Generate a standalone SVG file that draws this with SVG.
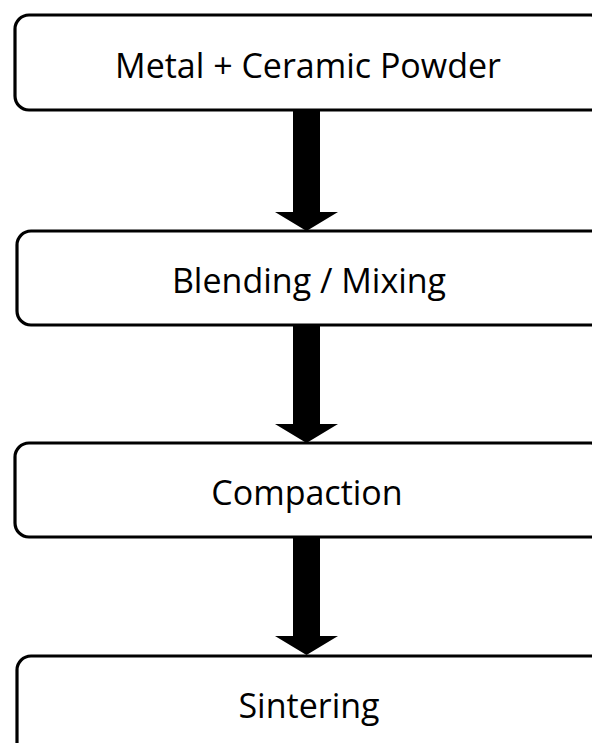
<svg xmlns="http://www.w3.org/2000/svg" width="592" height="743" viewBox="0 0 592 743">
<style>
.box{fill:#fff;stroke:#000;stroke-width:3.2}
.lbl{font-family:"Open Sans","Liberation Sans",sans-serif;font-size:34px;fill:#000;text-anchor:middle}
.arr{fill:#000}
</style>
<rect width="592" height="743" fill="#fff"/>
<g id="connectors">
<polygon class="arr" points="293,110 320,110 320,212 338,212 306.5,231 275,212 293,212"/>
<polygon class="arr" points="293,325 320,325 320,424 338,424 306.5,443 275,424 293,424"/>
<polygon class="arr" points="293,537 320,537 320,636 338,636 306.5,655 275,636 293,636"/>
</g>
<g id="n1"><rect class="box" x="15" y="15" width="590" height="95" rx="14"/><text class="lbl" x="308" y="78">Metal + Ceramic Powder</text></g>
<g id="n2"><rect class="box" x="17" y="231" width="590" height="94" rx="14"/><text class="lbl" x="309" y="293">Blending / Mixing</text></g>
<g id="n3"><rect class="box" x="15" y="443" width="590" height="94" rx="14"/><text class="lbl" x="307" y="505">Compaction</text></g>
<g id="n4"><rect class="box" x="17" y="656" width="590" height="100" rx="14"/><text class="lbl" x="309" y="718">Sintering</text></g>
</svg>
